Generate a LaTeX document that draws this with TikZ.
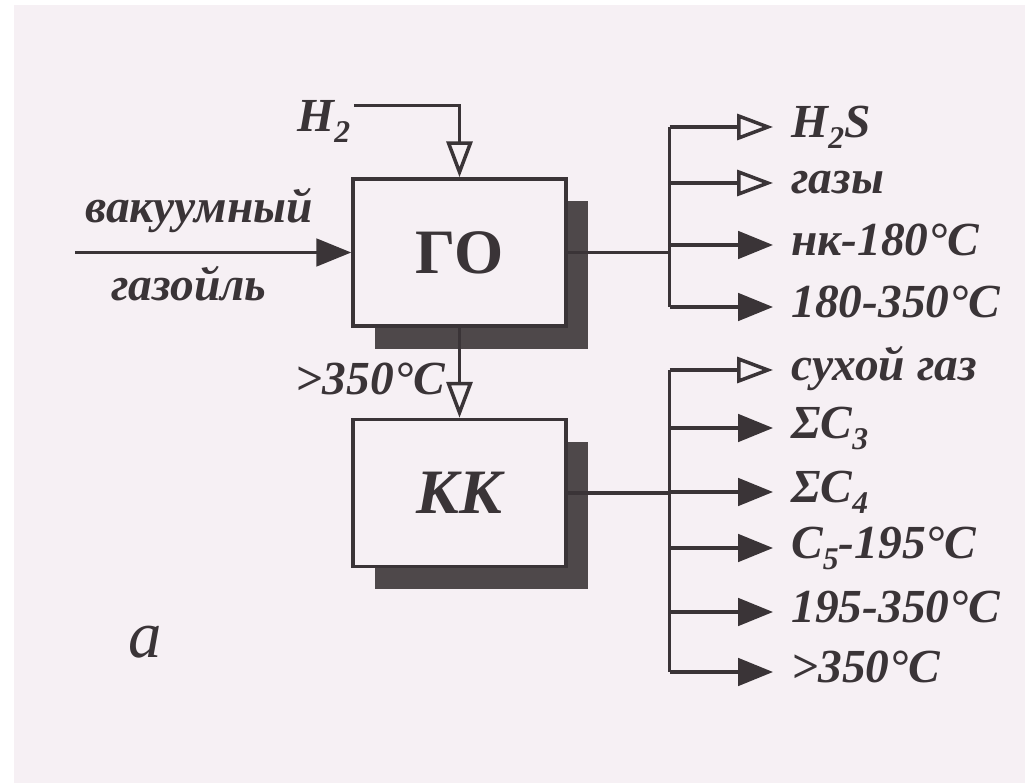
\documentclass[tikz,border=0pt]{standalone}
\usepackage{fontspec}
\setmainfont{Liberation Serif}
\usetikzlibrary{arrows.meta,calc,positioning,backgrounds}
\definecolor{scanpaper}{RGB}{246,240,244}
\definecolor{scanink}{RGB}{58,52,55}
\definecolor{scanshade}{RGB}{78,72,74}
\newcommand{\sbs}[1]{\raisebox{-0.5ex}{\fontsize{18}{18}\selectfont #1}}

\begin{document}
\begin{tikzpicture}[x=0.02cm,y=-0.02cm,
  >={Triangle[length=0.7cm,width=0.55cm]},
  flow/.style={draw=scanink,line width=2pt},
  openhead/.style={-{Triangle[open,length=0.72cm,width=0.52cm,line width=2pt]}},
  unit/.style={draw=scanink,line width=2pt,fill=scanpaper,text=scanink,
   minimum width=4.26cm,minimum height=2.94cm,inner sep=0pt},
  lbl/.style={font=\fontsize{27}{30}\selectfont\bfseries\itshape,text=scanink,
   inner sep=0pt,text height=18pt,text depth=6pt},
  outlbl/.style={lbl,anchor=west,inner xsep=0.36cm}]
 \useasboundingbox (0,0) rectangle (1025,783);
 % units
 \node[unit,font=\fontsize{36}{40}\selectfont\bfseries] (go) at (459.5,252.5) {ГО};
 \node[unit,font=\fontsize{36}{40}\selectfont\bfseries\itshape] (kk) at (459.5,493) {КК};
 \begin{scope}[on background layer]
  \fill[white] (0,0) rectangle (1025,783);
  \fill[scanpaper] (14,5) rectangle (1025,783);
  \foreach \b in {go,kk}
   \fill[scanshade] ($(\b.south west)+(24,21)$) rectangle ($(\b.north east)+(20,24)$);
 \end{scope}
 % feeds
 \node[lbl,anchor=base west] (h2) at (297,132) {H\sbs{2}};
 \draw[flow,openhead] ([xshift=2pt,yshift=-3pt]h2.north east) -| (go.north);
 \node[lbl] (vak) at (199,212) {вакуумный};
 \node[lbl] (gzl) at (189,290) {газойль};
 \coordinate[left=5.52cm of go.west] (feed);
 \draw[flow,->] (feed) -- (go.west);
 \draw[flow,openhead] (go.south) -- (kk.north);
 \node[lbl,anchor=base east] (rest) at (445,395) {>350°C};
 % products of GO
 \node[outlbl] (h2s) at (773,127) {H\sbs{2}S};
 \node[outlbl] (gazy) at (773,183) {газы};
 \node[outlbl] (nk) at (773,245) {нк-180°C};
 \node[outlbl] (f180) at (773,307) {180-350°C};
 \coordinate[right=2.04cm of go.east] (ja);
 \draw[flow] (go.east) -- (ja);
 \draw[flow] (ja |- h2s.west) -- (ja |- f180.west);
 \foreach \n in {h2s,gazy}
  \draw[flow,openhead] (ja |- \n.west) -- (\n.west);
 \foreach \n in {nk,f180}
  \draw[flow,->] (ja |- \n.west) -- (\n.west);
 % products of KK
 \node[outlbl] (dry) at (773,370) {сухой газ};
 \node[outlbl] (c3) at (773,428) {ΣC\sbs{3}};
 \node[outlbl] (c4) at (773,492) {ΣC\sbs{4}};
 \node[outlbl] (c5) at (773,548) {C\sbs{5}-195°C};
 \node[outlbl] (f195) at (773,612) {195-350°C};
 \node[outlbl] (res) at (773,672) {>350°C};
 \coordinate[right=2.04cm of kk.east] (jb);
 \draw[flow] (kk.east) -- (jb);
 \draw[flow] (jb |- dry.west) -- (jb |- res.west);
 \draw[flow,openhead] (jb |- dry.west) -- (dry.west);
 \foreach \n in {c3,c4,c5,f195,res}
  \draw[flow,->] (jb |- \n.west) -- (\n.west);
 \node[font=\fontsize{38}{40}\selectfont\itshape,text=scanink,inner sep=0pt] (tag) at (145,642) {а};
\end{tikzpicture}
\end{document}
